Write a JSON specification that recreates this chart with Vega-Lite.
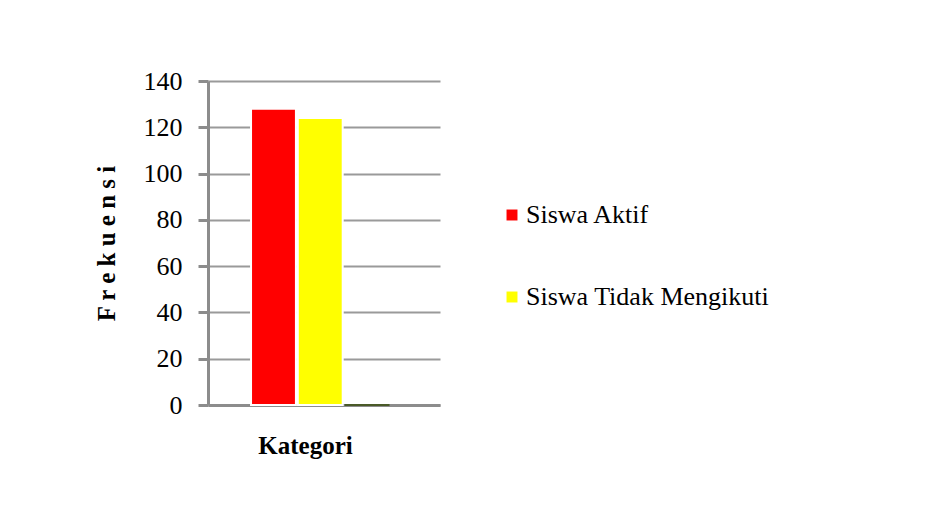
{
  "$schema": "https://vega.github.io/schema/vega-lite/v6.json",
  "width": 232,
  "height": 324,
  "autosize": {"type": "none"},
  "padding": {"left": 208, "top": 81, "right": 489, "bottom": 105},
  "background": "white",
  "config": {
    "view": {"stroke": null},
    "font": "Times New Roman"
  },
  "data": {
    "values": [
      {"kategori": "Siswa Aktif", "frekuensi": 128},
      {"kategori": "Siswa Tidak Mengikuti", "frekuensi": 124},
      {"kategori": "Lainnya", "frekuensi": 0}
    ]
  },
  "mark": {"type": "bar", "strokeWidth": 2},
  "encoding": {
    "x": {
      "field": "kategori",
      "type": "nominal",
      "sort": ["Siswa Aktif", "Siswa Tidak Mengikuti", "Lainnya"],
      "scale": {"paddingInner": 0.04, "paddingOuter": 1.13, "align": 0.46},
      "axis": {
        "title": "Kategori",
        "titleFont": "Times New Roman",
        "titleFontSize": 25,
        "titleFontWeight": "bold",
        "titleColor": "black",
        "titlePadding": 28,
        "titleX": 97,
        "labels": false,
        "ticks": false,
        "domainColor": "#8c8c8c",
        "domainWidth": 3
      }
    },
    "y": {
      "field": "frekuensi",
      "type": "quantitative",
      "scale": {"domain": [0, 140]},
      "axis": {
        "title": "F r e k u e n s i",
        "titleFont": "Times New Roman",
        "titleFontSize": 25,
        "titleFontWeight": "bold",
        "titleColor": "black",
        "titlePadding": 24,
        "values": [0, 20, 40, 60, 80, 100, 120, 140],
        "labelFont": "Times New Roman",
        "labelFontSize": 26,
        "labelColor": "black",
        "labelPadding": 16,
        "tickSize": 10,
        "tickColor": "#8c8c8c",
        "tickWidth": 3,
        "domainColor": "#8c8c8c",
        "domainWidth": 3,
        "grid": true,
        "gridColor": "#9a9a9a",
        "gridWidth": 2
      }
    },
    "color": {
      "field": "kategori",
      "type": "nominal",
      "scale": {
        "domain": ["Siswa Aktif", "Siswa Tidak Mengikuti", "Lainnya"],
        "range": ["#ff0000", "#ffff00", "#4a5a28"]
      },
      "legend": {
        "values": ["Siswa Aktif", "Siswa Tidak Mengikuti"],
        "title": null,
        "orient": "none",
        "legendX": 291,
        "legendY": 121,
        "symbolType": "square",
        "symbolSize": 120,
        "symbolStrokeWidth": 0,
        "labelFont": "Times New Roman",
        "labelFontSize": 26,
        "labelColor": "black",
        "labelLimit": 400,
        "rowPadding": 56,
        "labelOffset": 1
      }
    },
    "stroke": {
      "field": "kategori",
      "type": "nominal",
      "scale": {
        "domain": ["Siswa Aktif", "Siswa Tidak Mengikuti", "Lainnya"],
        "range": ["white", "white", "#4a5a28"]
      },
      "legend": null
    }
  }
}
